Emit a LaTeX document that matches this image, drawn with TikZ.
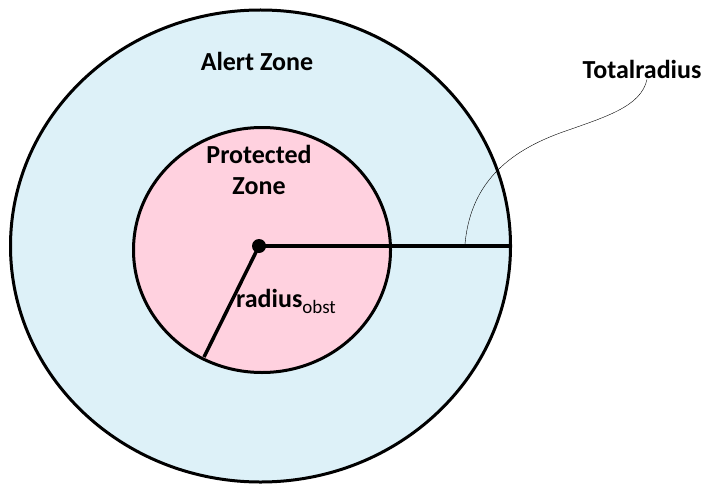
\documentclass[tikz,border=0pt]{standalone}
\usepackage{fontspec}
\setmainfont{Carlito}
\usetikzlibrary{positioning}
\definecolor{alertblue}{RGB}{221,241,248}
\definecolor{protpink}{RGB}{255,209,223}
\tikzstyle{zone}=[draw=black,line width=3pt]
\tikzstyle{zonetext}=[font=\fontsize{26}{30}\selectfont\bfseries,inner sep=0pt,anchor=base]
\tikzstyle{radline}=[draw,line width=3.5pt]
\tikzstyle{centerdot}=[circle,fill=black,minimum size=14pt,inner sep=0pt]

\begin{document}
\begin{tikzpicture}[x=1pt,y=-1pt]

  \useasboundingbox (0,0) rectangle (708,484);

  % the two zones
  \draw[zone, fill=alertblue] (260.5,246) ellipse [x radius=250, y radius=236];
  \draw[zone, fill=protpink] (262,250) ellipse [x radius=128.5, y radius=122.5];

  \node[centerdot] (center) at (259,246) {};
  \coordinate (outeredge) at (511,246);
  \coordinate (inneredge) at (204,357);
  \coordinate (tick) at (465,244);

  \draw[radline] (center.center) -- (outeredge);
  \draw[radline] (center.center) -- (inneredge);

  \node[zonetext] (alert) at (257,71) {Alert Zone};
  \node[zonetext] (protected) at (259,163) {Protected};
  \node[zonetext] (zone) at (259,194) {Zone};
  \node[zonetext, anchor=base west] (robst) at (236,307)
       {radius\raisebox{-6pt}{\fontsize{19}{20}\selectfont\mdseries obst}};
  \node[zonetext] (total) at (642,79) {Totalradius};

  \draw[thin] (total.south) ++(5,0) coordinate (ttail)
     .. controls (641,107) and (605,117) .. (560,133)
     .. controls (500,155) and (470,190) .. (tick);

\end{tikzpicture}
\end{document}
